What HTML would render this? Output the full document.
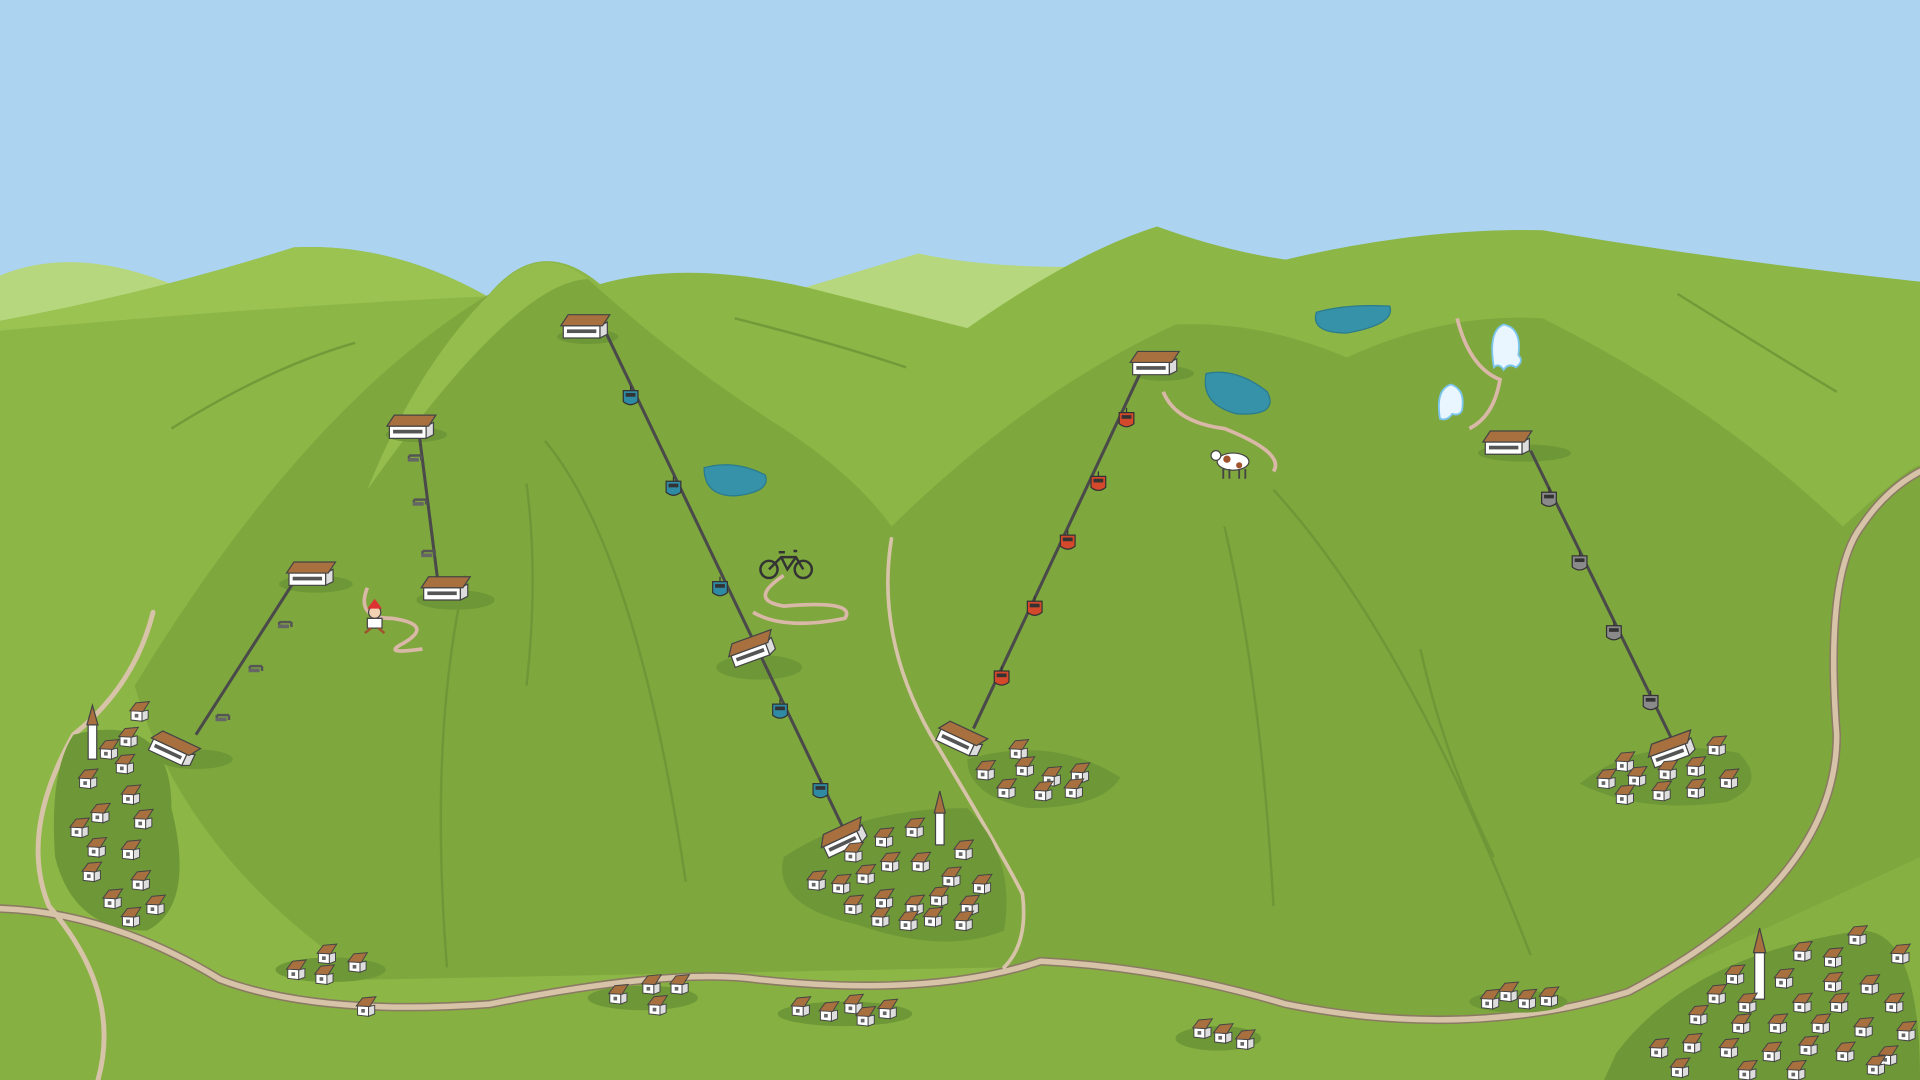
<!DOCTYPE html>
<html><head><meta charset="utf-8"><style>
html,body{margin:0;padding:0;width:1920px;height:1080px;overflow:hidden;background:#acd3ef}
svg{display:block}
</style></head><body>
<svg width="1920" height="1080" viewBox="0 0 1568 882" preserveAspectRatio="none" xmlns="http://www.w3.org/2000/svg">
<defs>
<g id="h"><path d="M0,3 L0,11 L9,12 L9,4Z" fill="#fff" stroke="#444" stroke-width="0.8"/><path d="M9,4 L9,12 L14,10 L14,3Z" fill="#ddd" stroke="#444" stroke-width="0.8"/><path d="M-1,3.5 L4,-3 L15,-4 L10,4Z" fill="#a8703f" stroke="#444" stroke-width="0.8"/><rect x="3" y="6" width="3" height="3" fill="#666"/></g>
<g id="st"><path d="M0,6 L0,16 L30,16 L30,6Z" fill="#fff" stroke="#444"/><path d="M30,6 L30,16 L36,13 L36,3Z" fill="#ddd" stroke="#444"/><path d="M-2,6 L4,-3 L38,-3 L32,6Z" fill="#a8703f" stroke="#444"/><rect x="3" y="9" width="24" height="3" fill="#555"/></g>
<g id="gb"><path d="M0,-9 v4" stroke="#333"/><path d="M-6,-5 h12 v9 q-6,5 -12,0Z" fill="#2f8aa3" stroke="#333"/><rect x="-4" y="-3" width="8" height="3" fill="#333"/></g>
<g id="gr"><path d="M0,-9 v4" stroke="#333"/><path d="M-6,-5 h12 v9 q-6,5 -12,0Z" fill="#d4482b" stroke="#333"/><rect x="-4" y="-3" width="8" height="3" fill="#333"/></g>
<g id="gg"><path d="M0,-9 v4" stroke="#333"/><path d="M-6,-5 h12 v9 q-6,5 -12,0Z" fill="#8a8a8a" stroke="#333"/><rect x="-4" y="-3" width="8" height="3" fill="#333"/></g>
<g id="ch"><path d="M-6,0 h10 M4,0 v4 M-6,0 v3" stroke="#555" stroke-width="2" fill="none"/><rect x="-7" y="2" width="9" height="3" fill="#666"/></g>
</defs>
<rect width="1568" height="882" fill="#acd3ef"/>
<path d="M0,225 Q60,200 140,232 L140,280 L0,280Z" fill="#b6d77d"/>
<path d="M640,240 Q700,222 750,207 Q800,218 875,218 L875,290 L640,290Z" fill="#b6d77d"/>
<path d="M0,262 Q120,240 240,202 Q320,198 398,242 Q440,190 490,232 Q560,212 660,235 L790,268 Q880,205 945,185 Q1000,205 1050,212 Q1160,186 1260,188 Q1400,212 1568,230 L1568,882 L0,882Z" fill="#8cb646"/>
<path d="M0,262 Q120,240 240,202 Q320,198 398,242 Q220,250 0,270Z" fill="#9ac352"/>
<path d="M110,560 Q250,330 400,240 Q440,195 480,228 Q560,300 640,350 Q700,390 728,430 Q740,600 820,790 L300,800 Q150,700 110,560Z" fill="#7ea73d"/>
<path d="M400,240 Q440,195 480,228 Q420,230 300,400 Q340,300 400,240Z" fill="#94bd4d"/>
<path d="M728,430 Q840,320 960,265 Q1030,262 1100,292 Q1180,255 1260,260 Q1400,330 1505,430 Q1560,380 1568,380 L1568,882 L820,790 Q740,600 728,430Z" fill="#7ea73d"/>
<path d="M728,430 Q840,320 960,265 Q860,290 790,268 Q700,340 728,430Z" fill="#8cb646"/>
<g stroke="#6c9436" stroke-width="2" fill="none" opacity="0.8">
<path d="M430,395 Q440,470 430,560"/><path d="M445,360 Q520,450 560,720"/><path d="M380,470 Q350,600 365,790"/>
<path d="M1000,430 Q1030,560 1040,740"/><path d="M1040,400 Q1150,520 1250,780"/><path d="M1160,530 Q1180,620 1220,700"/>
<path d="M140,350 Q220,300 290,280"/><path d="M1370,240 Q1450,290 1500,320"/><path d="M600,260 Q680,280 740,300"/>
</g>
<path d="M0,742 Q90,745 180,800 Q260,830 400,820 Q550,790 620,800 Q760,815 850,785 Q950,790 1050,820 Q1200,850 1330,810 L1568,700 L1568,882 L0,882Z" fill="#86b042"/>
<g fill="none" stroke-linecap="round">
<path d="M0,742 Q90,745 180,800 Q260,830 400,820 Q550,790 620,800 Q760,815 850,785 Q950,790 1050,820 Q1200,850 1330,810 Q1500,720 1500,600 Q1490,470 1520,430 Q1540,400 1568,385" stroke="#8b7a63" stroke-width="7"/>
<path d="M0,742 Q90,745 180,800 Q260,830 400,820 Q550,790 620,800 Q760,815 850,785 Q950,790 1050,820 Q1200,850 1330,810 Q1500,720 1500,600 Q1490,470 1520,430 Q1540,400 1568,385" stroke="#d6c3a8" stroke-width="4.5"/>
<path d="M125,500 Q110,560 60,600 Q15,680 40,740 Q100,810 80,882" stroke="#d6c3a8" stroke-width="4"/>
<path d="M728,440 Q715,520 760,600 Q820,700 835,730 Q840,770 820,790" stroke="#d6c3a8" stroke-width="3"/>
</g>
<g fill="none" stroke="#d9b8a8" stroke-width="3">
<path d="M640,470 Q610,490 640,495 Q700,490 690,505 Q640,515 615,500"/>
<path d="M300,480 Q290,505 320,505 Q355,510 330,525 Q310,535 345,530"/>
<path d="M950,320 Q960,345 1000,350 Q1050,370 1040,385"/>
<path d="M1190,260 Q1200,300 1225,310 Q1220,340 1200,350"/>
</g>
<g fill="#3592a9" stroke="#2a7a8e">
<path d="M575,382 Q600,375 625,388 Q630,402 600,405 Q575,405 575,382Z"/>
<path d="M985,305 Q1010,300 1035,320 Q1045,340 1010,338 Q980,330 985,305Z"/>
<path d="M1075,255 Q1100,248 1135,250 Q1140,265 1100,272 Q1070,272 1075,255Z"/>
</g>
<g fill="#6e9737">
<path d="M60,600 Q140,580 140,660 Q160,740 120,760 Q60,760 45,700 Q40,630 60,600Z"/>
<path d="M640,700 Q700,660 790,660 Q830,700 820,760 Q770,780 700,755 Q630,740 640,700Z"/>
<path d="M790,620 Q860,600 915,635 Q900,660 840,660 Q790,650 790,620Z"/>
<path d="M1290,640 Q1340,600 1420,615 Q1445,640 1410,655 Q1340,665 1290,640Z"/>
<path d="M1320,860 Q1380,780 1520,760 Q1568,760 1568,882 L1310,882Z"/>
<ellipse cx="270" cy="792" rx="45" ry="10"/><ellipse cx="525" cy="815" rx="45" ry="10"/><ellipse cx="690" cy="828" rx="55" ry="10"/><ellipse cx="995" cy="848" rx="35" ry="10"/><ellipse cx="1240" cy="818" rx="40" ry="9"/>
<ellipse cx="480" cy="275" rx="25" ry="6"/><ellipse cx="340" cy="355" rx="25" ry="6"/><ellipse cx="258" cy="477" rx="30" ry="7"/><ellipse cx="372" cy="490" rx="32" ry="8"/><ellipse cx="620" cy="545" rx="35" ry="10"/><ellipse cx="950" cy="305" rx="25" ry="6"/><ellipse cx="1245" cy="370" rx="38" ry="7"/><ellipse cx="160" cy="620" rx="30" ry="8"/>
</g>
<g stroke="#4a4a4a" stroke-width="2.5">
<line x1="160" y1="600" x2="242" y2="472"/>
<line x1="342" y1="352" x2="358" y2="478"/>
<line x1="495" y1="272" x2="688" y2="675"/>
<line x1="932" y1="303" x2="795" y2="595"/>
<line x1="1250" y1="368" x2="1365" y2="603"/>
</g>
<use href="#gb" x="515" y="324"/><use href="#gb" x="550" y="398"/><use href="#gb" x="588" y="480"/><use href="#gb" x="637" y="580"/><use href="#gb" x="670" y="645"/>
<use href="#gr" x="920" y="342"/><use href="#gr" x="897" y="394"/><use href="#gr" x="872" y="442"/><use href="#gr" x="845" y="496"/><use href="#gr" x="818" y="553"/>
<use href="#gg" x="1265" y="407"/><use href="#gg" x="1290" y="459"/><use href="#gg" x="1318" y="516"/><use href="#gg" x="1348" y="573"/>
<use href="#ch" x="183" y="584"/><use href="#ch" x="210" y="544"/><use href="#ch" x="234" y="508"/><use href="#ch" x="340" y="372"/><use href="#ch" x="344" y="408"/><use href="#ch" x="351" y="450"/>
<use href="#st" x="460" y="260"/><use href="#st" x="318" y="342"/><use href="#st" x="236" y="462"/><use href="#st" x="346" y="474"/>
<use href="#st" x="925" y="290"/><use href="#st" x="1213" y="355"/>
<g transform="translate(595,530) rotate(-20)"><use href="#st"/></g>
<g transform="translate(128,598) rotate(25)"><use href="#st"/></g>
<g transform="translate(771,590) rotate(25)"><use href="#st"/></g>
<g transform="translate(670,686) rotate(-25)"><use href="#st"/></g>
<g transform="translate(1346,612) rotate(-20)"><use href="#st"/></g>
<g fill="#fff" stroke="#444"><rect x="72" y="592" width="7" height="28"/><path d="M71,592 L75.5,576 L80,592Z" fill="#a8703f"/>
<rect x="764" y="664" width="7" height="26"/><path d="M763,664 L767.5,646 L772,664Z" fill="#a8703f"/>
<rect x="1433" y="778" width="8" height="38"/><path d="M1432,778 L1437,758 L1442,778Z" fill="#a8703f"/></g>
<g>
<use href="#h" x="107" y="577"/><use href="#h" x="98" y="598"/><use href="#h" x="82" y="608"/><use href="#h" x="95" y="620"/><use href="#h" x="65" y="632"/><use href="#h" x="100" y="645"/><use href="#h" x="75" y="660"/><use href="#h" x="110" y="665"/><use href="#h" x="58" y="672"/><use href="#h" x="72" y="688"/><use href="#h" x="100" y="690"/><use href="#h" x="68" y="708"/><use href="#h" x="108" y="715"/><use href="#h" x="85" y="730"/><use href="#h" x="120" y="735"/><use href="#h" x="100" y="745"/>
<use href="#h" x="690" y="692"/><use href="#h" x="715" y="680"/><use href="#h" x="740" y="672"/><use href="#h" x="780" y="690"/><use href="#h" x="660" y="715"/><use href="#h" x="680" y="718"/><use href="#h" x="700" y="710"/><use href="#h" x="720" y="700"/><use href="#h" x="745" y="700"/><use href="#h" x="770" y="712"/><use href="#h" x="795" y="718"/><use href="#h" x="690" y="735"/><use href="#h" x="715" y="730"/><use href="#h" x="740" y="735"/><use href="#h" x="760" y="728"/><use href="#h" x="785" y="735"/><use href="#h" x="712" y="745"/><use href="#h" x="735" y="748"/><use href="#h" x="755" y="745"/><use href="#h" x="780" y="748"/>
<use href="#h" x="825" y="608"/><use href="#h" x="798" y="625"/><use href="#h" x="830" y="622"/><use href="#h" x="852" y="630"/><use href="#h" x="875" y="627"/><use href="#h" x="815" y="640"/><use href="#h" x="845" y="642"/><use href="#h" x="870" y="640"/>
<use href="#h" x="1320" y="618"/><use href="#h" x="1395" y="605"/><use href="#h" x="1305" y="632"/><use href="#h" x="1330" y="630"/><use href="#h" x="1355" y="625"/><use href="#h" x="1378" y="622"/><use href="#h" x="1405" y="632"/><use href="#h" x="1320" y="645"/><use href="#h" x="1350" y="642"/><use href="#h" x="1378" y="640"/>
<use href="#h" x="235" y="788"/><use href="#h" x="260" y="775"/><use href="#h" x="285" y="782"/><use href="#h" x="258" y="792"/><use href="#h" x="292" y="818"/>
<use href="#h" x="498" y="808"/><use href="#h" x="525" y="800"/><use href="#h" x="548" y="800"/><use href="#h" x="530" y="817"/>
<use href="#h" x="647" y="818"/><use href="#h" x="670" y="822"/><use href="#h" x="690" y="816"/><use href="#h" x="700" y="826"/><use href="#h" x="718" y="820"/>
<use href="#h" x="975" y="836"/><use href="#h" x="992" y="840"/><use href="#h" x="1010" y="845"/>
<use href="#h" x="1210" y="812"/><use href="#h" x="1225" y="806"/><use href="#h" x="1240" y="812"/><use href="#h" x="1258" y="810"/>
<use href="#h" x="1510" y="760"/><use href="#h" x="1465" y="773"/><use href="#h" x="1490" y="778"/><use href="#h" x="1545" y="775"/><use href="#h" x="1410" y="792"/><use href="#h" x="1450" y="795"/><use href="#h" x="1490" y="798"/><use href="#h" x="1520" y="800"/><use href="#h" x="1395" y="808"/><use href="#h" x="1420" y="815"/><use href="#h" x="1465" y="815"/><use href="#h" x="1495" y="815"/><use href="#h" x="1540" y="815"/><use href="#h" x="1380" y="825"/><use href="#h" x="1415" y="832"/><use href="#h" x="1445" y="832"/><use href="#h" x="1480" y="832"/><use href="#h" x="1515" y="835"/><use href="#h" x="1550" y="838"/><use href="#h" x="1348" y="852"/><use href="#h" x="1375" y="848"/><use href="#h" x="1405" y="852"/><use href="#h" x="1440" y="855"/><use href="#h" x="1470" y="850"/><use href="#h" x="1500" y="855"/><use href="#h" x="1535" y="858"/><use href="#h" x="1365" y="868"/><use href="#h" x="1420" y="870"/><use href="#h" x="1460" y="870"/><use href="#h" x="1525" y="866"/>
</g>
<g fill="none" stroke="#333" stroke-width="2"><circle cx="628" cy="465" r="7"/><circle cx="656" cy="465" r="7"/><path d="M628,465 L638,455 L650,455 L656,465 M638,455 L643,465 L650,455 M636,451 h5 M648,450 l3,0"/></g>
<g><ellipse cx="1007" cy="377" rx="13" ry="7" fill="#fff" stroke="#444"/><circle cx="1002" cy="375" r="3" fill="#a0522d"/><circle cx="1012" cy="380" r="2.5" fill="#a0522d"/><circle cx="993" cy="372" r="4" fill="#fff" stroke="#444"/><path d="M999,383 v8 M1004,383 v8 M1012,383 v8 M1017,383 v8" stroke="#444" stroke-width="1.5"/></g>
<g><circle cx="306" cy="500" r="5" fill="#f3d2b3" stroke="#444"/><path d="M300,497 L306,489 L312,497Z" fill="#d33"/><path d="M300,505 h12 v8 h-12Z" fill="#fff" stroke="#444"/><path d="M298,517 l5,-4 M314,517 l-5,-4" stroke="#a0522d" stroke-width="2"/></g>
<g fill="#eaf6ff" stroke="#7cc6ee" stroke-width="1.5">
<path d="M1220,300 Q1215,270 1228,265 Q1243,268 1240,290 Q1245,295 1238,300 Q1232,296 1228,302 Q1224,296 1220,300Z"/>
<path d="M1176,342 Q1172,318 1185,314 Q1197,318 1194,335 Q1192,340 1186,338 Q1182,344 1176,342Z"/>
</g>
</svg>
</body></html>
